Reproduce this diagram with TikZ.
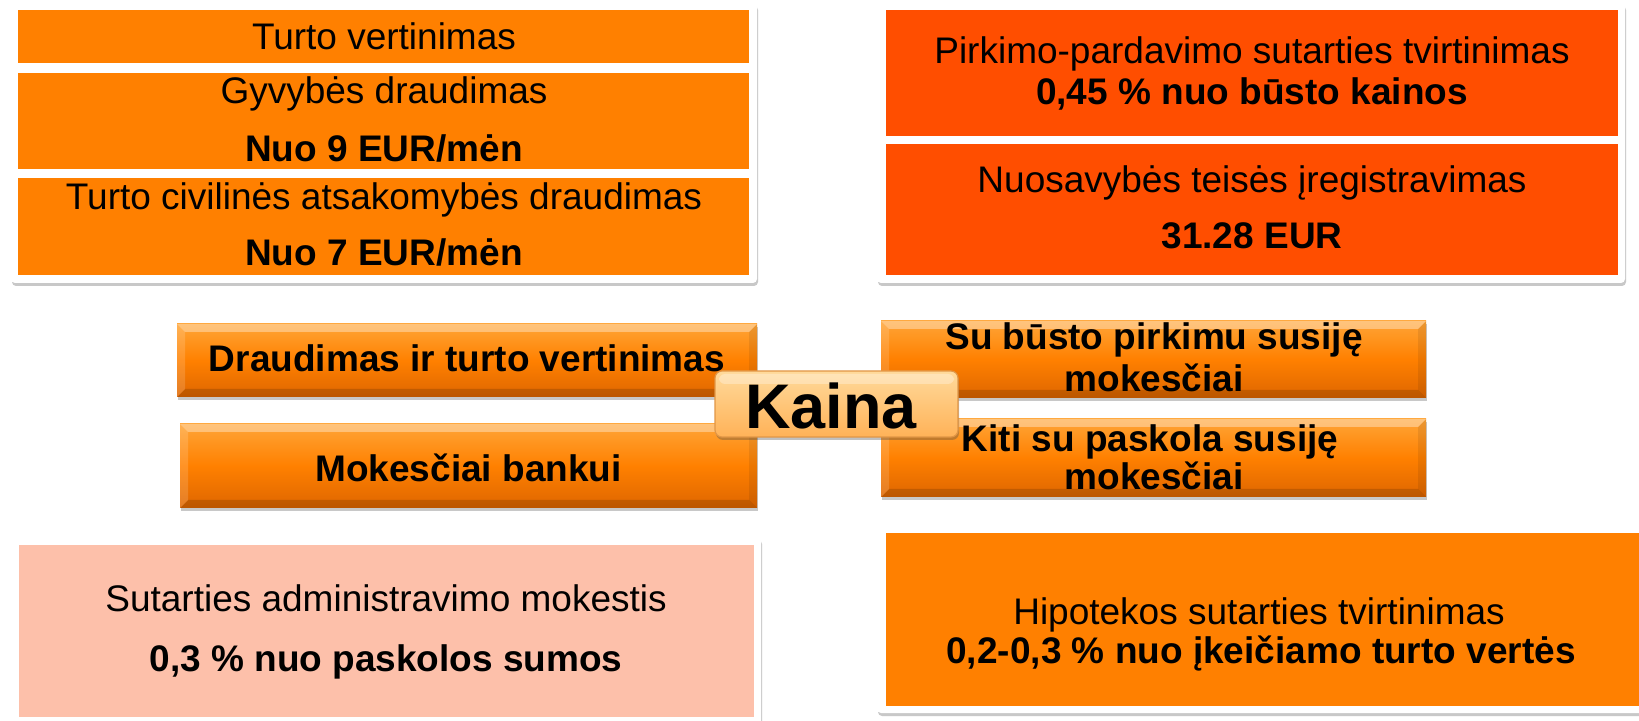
\documentclass[tikz,border=0pt]{standalone}
\usepackage{fontspec}
\setmainfont{Liberation Sans}
\usetikzlibrary{shadows}
\definecolor{orA}{RGB}{255,128,0}
\definecolor{orR}{RGB}{255,78,0}
\definecolor{pinkC}{RGB}{253,192,170}
\definecolor{midT}{RGB}{255,165,55}
\definecolor{midB}{RGB}{222,102,0}
\definecolor{kT}{RGB}{255,218,155}
\definecolor{kB}{RGB}{255,178,88}
\definecolor{kBd}{RGB}{225,150,70}
\tikzset{
  card/.style={fill=white, rounded corners=2pt,
    drop shadow={shadow xshift=0.5pt, shadow yshift=-1.5pt, opacity=0.3, fill=black!70}},
  txt/.style={anchor=base, inner sep=0pt, font=\fontsize{18.5}{22}\selectfont},
  btxt/.style={txt, font=\fontsize{18.5}{22}\selectfont\bfseries},
  ktxt/.style={anchor=base, inner sep=0pt, font=\fontsize{31.5}{36}\selectfont\bfseries},
  midbox/.style={top color=midT, bottom color=midB, middle color=orA,
    drop shadow={shadow xshift=0.5pt, shadow yshift=-1.5pt, opacity=0.3, fill=black!70}},
}
\newcommand\bevbox[4]{%
  \path[midbox] (#1,#2) rectangle (#3,#4);
  \fill[white,opacity=0.35] (#1,#2) -- (#3,#2) -- ({#3-8},{#2+8}) -- ({#1+8},{#2+8}) -- cycle;
  \fill[black,opacity=0.15] (#1,#4) -- (#3,#4) -- ({#3-8},{#4-8}) -- ({#1+8},{#4-8}) -- cycle;
  \fill[black,opacity=0.08] (#3,#2) -- (#3,#4) -- ({#3-8},{#4-8}) -- ({#3-8},{#2+8}) -- cycle;
  \fill[white,opacity=0.15] (#1,#2) -- (#1,#4) -- ({#1+8},{#4-8}) -- ({#1+8},{#2+8}) -- cycle;
}
\begin{document}
\begin{tikzpicture}[x=0.5pt,y=-0.5pt]
\useasboundingbox (0,0) rectangle (1639,721);
\clip (0,0) rectangle (1639,721);
\fill[white] (0,0) rectangle (1639,721);

% top-left card
\path[card] (11,3) rectangle (757,283);
\fill[orA] (18,10) rectangle (749,63);
\fill[orA] (18,73) rectangle (749,169);
\fill[orA] (18,178) rectangle (749,275);
\node[txt] (tv) at (384,49.3) {Turto vertinimas};
\node[txt] (gd) at (384,103.3) {Gyvybės draudimas};
\node[btxt] (n9) at (384,161.7) {Nuo 9 EUR/mėn};
\node[txt] (tc) at (384,209.3) {Turto civilinės atsakomybės draudimas};
\node[btxt] (n7) at (384,266) {Nuo 7 EUR/mėn};

% top-right card
\path[card] (877,3) rectangle (1625,283);
\fill[orR] (886,10) rectangle (1618,136);
\fill[orR] (886,144) rectangle (1618,275);
\node[txt] (pp) at (1252,64) {Pirkimo-pardavimo sutarties tvirtinimas};
\node[btxt] (p45) at (1252,104.3) {0,45 \% nuo būsto kainos};
\node[txt] (nt) at (1252,192.7) {Nuosavybės teisės įregistravimas};
\node[btxt] (eur) at (1252,248.3) {31.28 EUR};

% bottom-left card
\path[card] (11,537) rectangle (761,735);
\fill[pinkC] (19,545) rectangle (754,717);
\node[txt] (sa) at (386,611.7) {Sutarties administravimo mokestis};
\node[btxt] (s03) at (386,671.7) {0,3 \% nuo paskolos sumos};

% bottom-right card
\path[card] (877,525) rectangle (1650,713);
\fill[orA] (886,533) rectangle (1645,706);
\node[txt] (hs) at (1259,624) {Hipotekos sutarties tvirtinimas};
\node[btxt] (h02) at (1261,663.3) {0,2-0,3 \% nuo įkeičiamo turto vertės};

% middle boxes
\bevbox{177}{324}{757}{397}
\bevbox{180}{424}{757}{508}
\bevbox{881}{321}{1426}{398}
\bevbox{881}{419}{1426}{497}
\node[btxt] (dr) at (467,371.7) {Draudimas ir turto vertinimas};
\node[btxt] (mb) at (468.5,481.7) {Mokesčiai bankui};
\node[btxt] (sb1) at (1154,350) {Su būsto pirkimu susiję};
\node[btxt] (sb2) at (1154,391.7) {mokesčiai};
\node[btxt] (ks1) at (1150,451.7) {Kiti su paskola susiję};
\node[btxt] (ks2) at (1154,490) {mokesčiai};

% Kaina
\path[rounded corners=3.5pt, top color=kT, bottom color=kB, draw=kBd, line width=0.6pt,
  drop shadow={shadow xshift=0.5pt, shadow yshift=-1.5pt, opacity=0.35, fill=black!70}]
  (715,371) rectangle (958,437);
\fill[white,opacity=0.3,rounded corners=3pt] (719,374) rectangle (954,384);
\node[ktxt] (kaina) at (831,428.3) {Kaina};
\end{tikzpicture}
\end{document}
